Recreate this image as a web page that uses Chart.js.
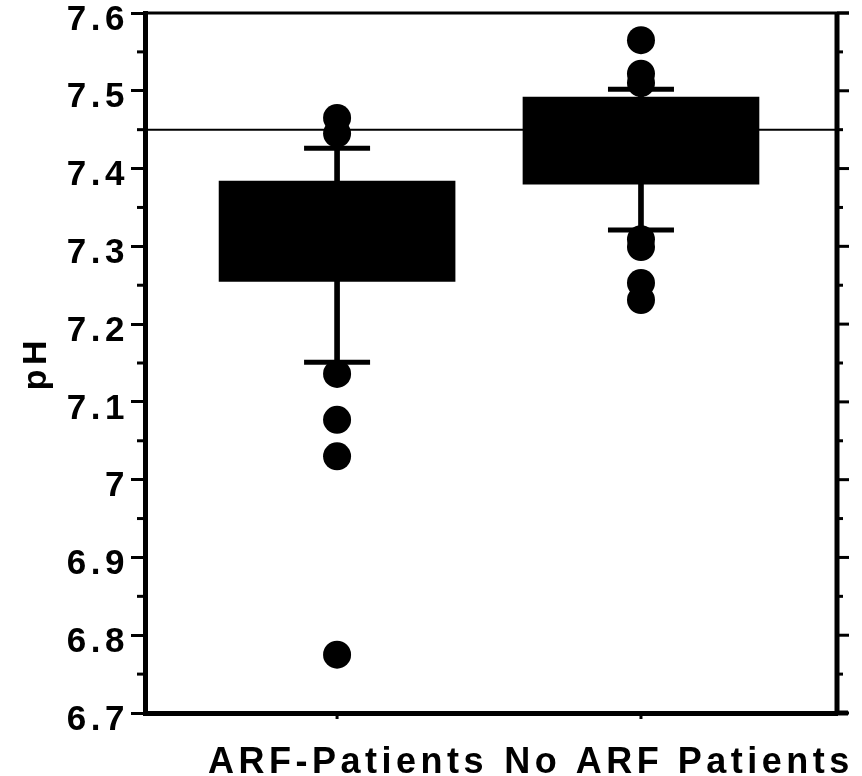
<!DOCTYPE html>
<html>
<head>
<meta charset="utf-8">
<script src="https://cdn.jsdelivr.net/npm/chart.js@4.4.1/dist/chart.umd.min.js"></script>
<style>
  html, body { margin: 0; padding: 0; background: #fff; }
</style>
</head>
<body>
<canvas id="chart" width="862" height="776"></canvas>
<script>
// groups and box statistics (pH)
const groups = ['ARF-Patients', 'No ARF Patients']
const groupPos = [1, 2]
const q1 = [7.255, 7.38]
const q3 = [7.384, 7.492]
const whiskerLow = [7.151, 7.321]
const whiskerHigh = [7.426, 7.502]
const outliersARF = [7.465, 7.445, 7.136, 7.077, 7.03, 6.775]
const outliersNoARF = [7.565, 7.522, 7.51, 7.309, 7.299, 7.253, 7.231]
const refValue = 7.45
const yTicks = [6.7, 6.8, 6.9, 7.0, 7.1, 7.2, 7.3, 7.4, 7.5, 7.6]

// where the category labels sit on the x scale (they are drawn a bit right of the boxes)
const labelPos = [1.036, 2.125]

Chart.defaults.font.family = "'Liberation Sans', Arial, sans-serif"
Chart.defaults.font.weight = 'bold'
Chart.defaults.color = '#000'

// the scanned figure has wide letter spacing
const spacing = {
    id: 'spacing',
    beforeUpdate(chart) { chart.ctx.letterSpacing = '4.5px' },
    beforeDraw(chart) { chart.ctx.letterSpacing = '4.5px' }
}

const frame = {
    id: 'frame',
    beforeDatasetsDraw(chart) {
        const {ctx, chartArea: a, scales: {y}} = chart
        const py = y.getPixelForValue(refValue)
        ctx.save()
        ctx.strokeStyle = '#000'
        ctx.lineWidth = 2
        ctx.beginPath(); ctx.moveTo(a.left, py); ctx.lineTo(a.right, py); ctx.stroke()
        ctx.restore()
    },
    afterDraw(chart) {
        const {ctx, chartArea: a, scales: {x, y}} = chart
        ctx.save()
        ctx.strokeStyle = '#000'
        // top border and right border
        ctx.lineWidth = 3
        ctx.beginPath(); ctx.moveTo(a.left - 2, a.top); ctx.lineTo(a.right + 12, a.top); ctx.stroke()
        ctx.lineWidth = 5
        ctx.beginPath(); ctx.moveTo(a.right, a.top); ctx.lineTo(a.right, a.bottom); ctx.stroke()
        ctx.beginPath(); ctx.moveTo(a.right, a.bottom); ctx.lineTo(a.right + 11, a.bottom); ctx.stroke()
        // minor ticks, and ticks on the right side
        ctx.lineWidth = 3
        for (let i = 0; i < yTicks.length - 1; i++) {
            const p = y.getPixelForValue((yTicks[i] + yTicks[i + 1]) / 2)
            ctx.beginPath(); ctx.moveTo(a.left - 8, p); ctx.lineTo(a.left, p); ctx.stroke()
            ctx.beginPath(); ctx.moveTo(a.right, p); ctx.lineTo(a.right + 6, p); ctx.stroke()
        }
        yTicks.forEach(v => {
            const p = y.getPixelForValue(v)
            ctx.beginPath(); ctx.moveTo(a.right, p); ctx.lineTo(a.right + 12, p); ctx.stroke()
        })
        // small tick marks under the boxes
        groupPos.forEach(v => {
            const p = x.getPixelForValue(v)
            ctx.beginPath(); ctx.moveTo(p, a.bottom); ctx.lineTo(p, a.bottom + 6); ctx.stroke()
        })
        ctx.restore()
    }
}

const boxData = groupPos.map((x, i) => ({x: x, y: [q1[i], q3[i]]}))
const whiskerData = groupPos.map((x, i) => ({x: x, y: [whiskerLow[i], whiskerHigh[i]]}))
const capData = []
groupPos.forEach((x, i) => {
    capData.push({x: x, y: whiskerLow[i]})
    capData.push({x: x, y: whiskerHigh[i]})
})
const outlierData = outliersARF.map(v => ({x: groupPos[0], y: v}))
    .concat(outliersNoARF.map(v => ({x: groupPos[1], y: v})))

const canvas = document.getElementById('chart')
const myChart = new Chart(canvas, {
    type: 'bar',
    data: {
        datasets: [
            {
                label: 'whiskers',
                data: whiskerData,
                backgroundColor: '#000',
                barThickness: 5,
                grouped: false,
                order: 4
            },
            {
                label: 'IQR',
                data: boxData,
                backgroundColor: '#000',
                barThickness: 236,
                grouped: false,
                order: 3
            },
            {
                type: 'scatter',
                label: 'caps',
                data: capData,
                pointStyle: 'line',
                pointRadius: 33,
                borderColor: '#000',
                pointBorderWidth: 5,
                order: 2
            },
            {
                type: 'scatter',
                label: 'outliers',
                data: outlierData,
                pointStyle: 'circle',
                pointRadius: 14,
                backgroundColor: '#000',
                borderColor: '#000',
                borderWidth: 0,
                order: 1
            }
        ]
    },
    options: {
        responsive: false,
        animation: false,
        events: [],
        layout: {autoPadding: false, padding: {top: 13, right: 25, left: 0, bottom: 0}},
        plugins: {
            legend: {display: false},
            tooltip: {enabled: false}
        },
        scales: {
            x: {
                type: 'linear',
                min: 0.368,
                max: 2.645,
                offset: false,
                afterBuildTicks: scale => { scale.ticks = labelPos.map(v => ({value: v})) },
                afterFit: scale => {
                    scale.height = 63
                    scale.paddingLeft = 0
                    scale.paddingRight = 0
                },
                grid: {drawOnChartArea: false, drawTicks: false, offset: false},
                border: {display: true, color: '#000', width: 5},
                ticks: {
                    autoSkip: false,
                    maxRotation: 0,
                    minRotation: 0,
                    padding: 28,
                    font: {size: 36, weight: 'bold'},
                    color: '#000',
                    callback: (v, i) => groups[i]
                }
            },
            y: {
                min: 6.7,
                max: 7.6,
                afterBuildTicks: scale => { scale.ticks = yTicks.map(v => ({value: v})) },
                afterFit: scale => {
                    scale.width = 145
                    scale.paddingTop = 0
                    scale.paddingBottom = 0
                },
                grid: {drawOnChartArea: false, tickLength: 14, tickWidth: 3, tickColor: '#000'},
                border: {display: true, color: '#000', width: 5},
                ticks: {
                    padding: 2,
                    labelOffset: 7,
                    font: {size: 35, weight: 'bold'},
                    color: '#000',
                    callback: v => String(+v.toFixed(1))
                },
                title: {
                    display: true,
                    text: 'pH',
                    color: '#000',
                    font: {size: 34, weight: 'bold'},
                    padding: {top: 16, bottom: 0}
                }
            }
        }
    },
    plugins: [spacing, frame]
})
</script>
</body>
</html>
